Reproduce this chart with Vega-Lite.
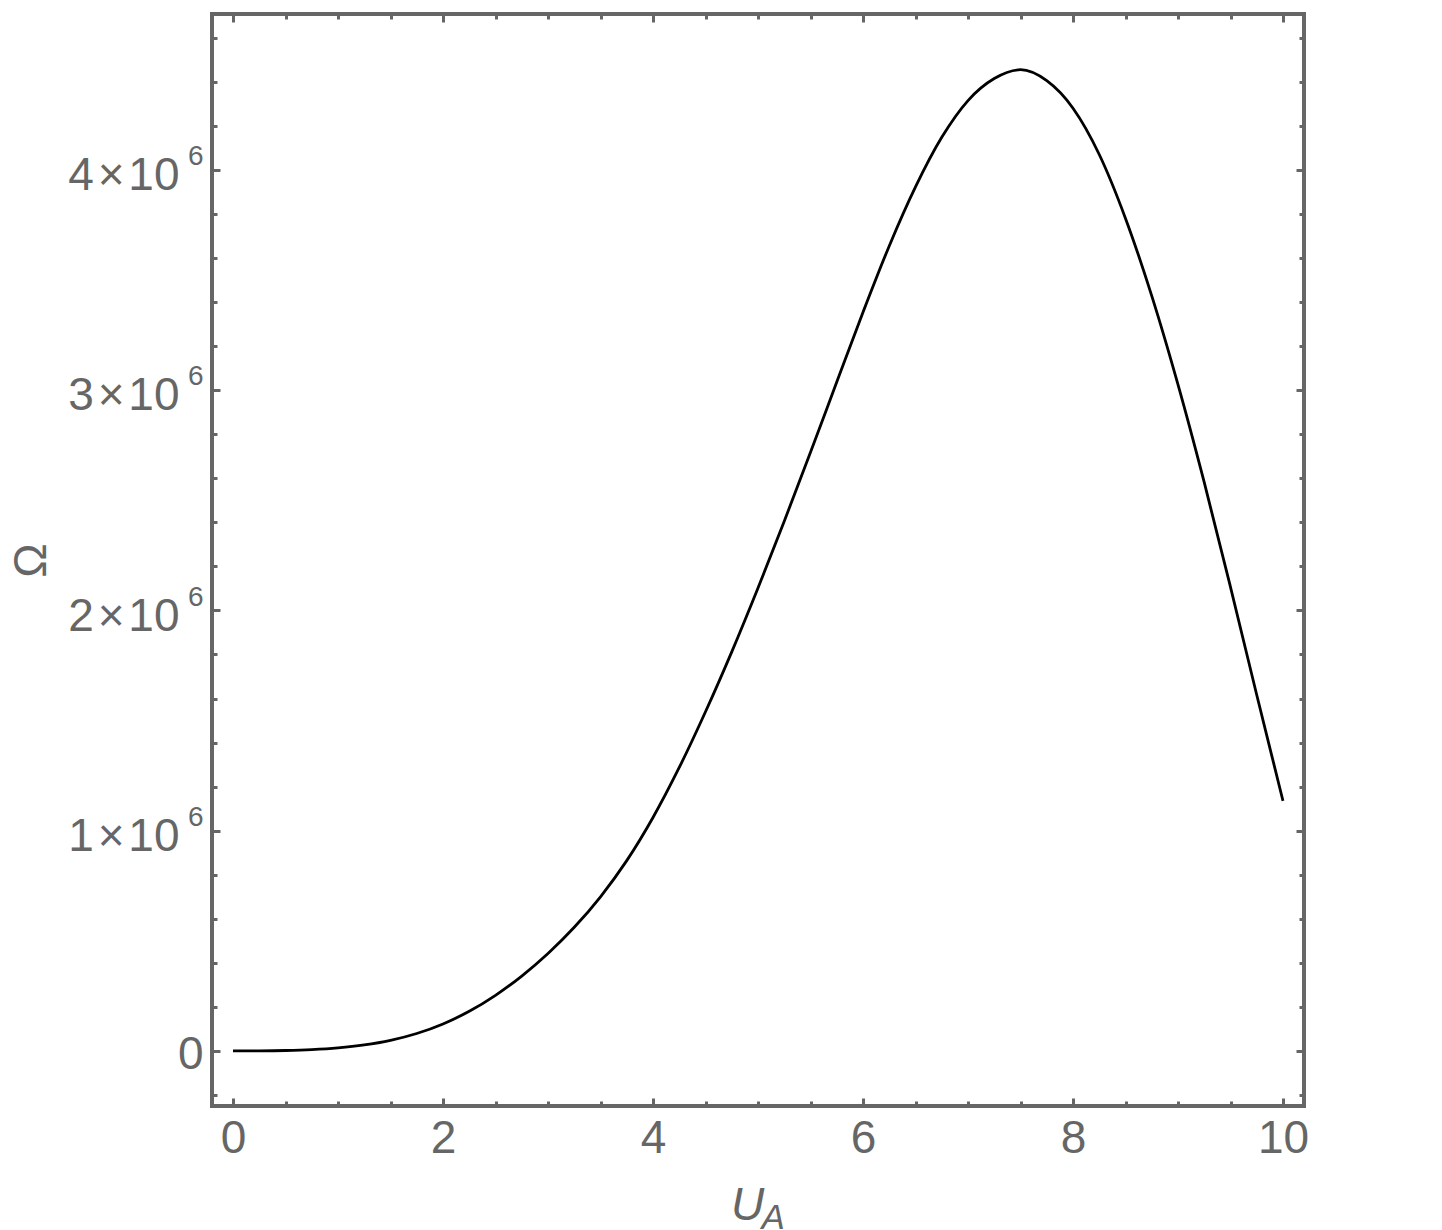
{
  "$schema": "https://vega.github.io/schema/vega-lite/v6.json",
  "width": 1092,
  "height": 1092,
  "autosize": {"type": "none"},
  "padding": {"left": 212, "top": 14, "right": 138, "bottom": 124},
  "background": "white",
  "config": {
    "view": {"stroke": "#666666", "strokeWidth": 4},
    "axis": {
      "domain": false,
      "grid": false,
      "tickColor": "#666666",
      "labelColor": "#666666",
      "labelFont": "Liberation Sans",
      "labelFontSize": 46,
      "titleColor": "#666666",
      "titleFont": "Liberation Sans",
      "titleFontWeight": "normal"
    }
  },
  "data": {
    "values": [
      {"u": 0, "omega": 0},
      {"u": 0.25, "omega": 400},
      {"u": 0.5, "omega": 2000},
      {"u": 0.75, "omega": 6000},
      {"u": 1.0, "omega": 13800},
      {"u": 1.25, "omega": 27100},
      {"u": 1.5, "omega": 48000},
      {"u": 1.75, "omega": 79000},
      {"u": 2.0, "omega": 122500},
      {"u": 2.25, "omega": 180000},
      {"u": 2.5, "omega": 252500},
      {"u": 2.75, "omega": 340000},
      {"u": 3.0, "omega": 442500},
      {"u": 3.25, "omega": 561300},
      {"u": 3.5, "omega": 700000},
      {"u": 3.75, "omega": 864000},
      {"u": 4.0, "omega": 1060000},
      {"u": 4.25, "omega": 1287000},
      {"u": 4.5, "omega": 1540000},
      {"u": 4.75, "omega": 1812000},
      {"u": 5.0, "omega": 2102000},
      {"u": 5.25, "omega": 2405000},
      {"u": 5.5, "omega": 2718000},
      {"u": 5.75, "omega": 3037000},
      {"u": 6.0, "omega": 3354000},
      {"u": 6.25, "omega": 3655000},
      {"u": 6.5, "omega": 3923000},
      {"u": 6.75, "omega": 4148000},
      {"u": 7.0, "omega": 4315000},
      {"u": 7.25, "omega": 4415000},
      {"u": 7.5, "omega": 4455000},
      {"u": 7.75, "omega": 4405000},
      {"u": 8.0, "omega": 4280000},
      {"u": 8.25, "omega": 4070000},
      {"u": 8.5, "omega": 3780000},
      {"u": 8.75, "omega": 3428000},
      {"u": 9.0, "omega": 3025000},
      {"u": 9.25, "omega": 2581000},
      {"u": 9.5, "omega": 2106000},
      {"u": 9.75, "omega": 1616000},
      {"u": 10.0, "omega": 1135000}
    ]
  },
  "layer": [
    {
      "mark": {"type": "line", "color": "black", "strokeWidth": 2.8, "interpolate": "monotone"},
      "encoding": {
        "x": {
          "field": "u", "type": "quantitative",
          "scale": {"domain": [-0.2, 10.2], "nice": false, "zero": false},
          "axis": {
            "orient": "bottom", "values": [0, 2, 4, 6, 8, 10],
            "tickSize": -8, "tickWidth": 3, "labelPadding": 18,
            "labelFlush": false, "labelOverlap": false, "format": "d",
            "title": "U", "titleFontSize": 46, "titleFontStyle": "italic",
            "titleX": 535, "titleY": 113, "titleBaseline": "alphabetic", "titleAlign": "center"
          }
        },
        "y": {
          "field": "omega", "type": "quantitative",
          "scale": {"domain": [-250000, 4708000], "nice": false, "zero": false},
          "axis": {
            "orient": "left", "values": [0, 1000000, 2000000, 3000000, 4000000],
            "tickSize": -8, "tickWidth": 3,
            "labelPadding": {"condition": {"test": "datum.value === 0", "value": 17}, "value": 41},
            "labelFlush": false, "labelOverlap": false,
            "labelExpr": "datum.value === 0 ? '0' : format(datum.value / 1000000, 'd') + '\u200a×\u200a10'",
            "labelOffset": {"condition": {"test": "datum.value === 0", "value": 3.4}, "value": 5.7},
            "title": "Ω", "titleFontSize": 46, "titleAngle": -90,
            "titleX": -167, "titleY": 546, "titleBaseline": "alphabetic", "titleAlign": "center"
          }
        }
      }
    },
    {
      "mark": {"type": "point", "opacity": 0},
      "encoding": {
        "x": {
          "field": "u", "type": "quantitative",
          "scale": {"domain": [-0.2, 10.2], "nice": false, "zero": false},
          "axis": {
            "orient": "bottom", "values": [0.5, 1, 1.5, 2.5, 3, 3.5, 4.5, 5, 5.5, 6.5, 7, 7.5, 8.5, 9, 9.5],
            "tickSize": -5, "tickWidth": 3, "labels": false,
            "title": "A", "titleFontSize": 35, "titleFontStyle": "italic",
            "titleX": 549, "titleY": 122, "titleBaseline": "alphabetic", "titleAlign": "left"
          }
        },
        "y": {
          "field": "omega", "type": "quantitative",
          "scale": {"domain": [-250000, 4708000], "nice": false, "zero": false},
          "axis": {
            "orient": "left",
            "values": [-200000, 200000, 400000, 600000, 800000, 1200000, 1400000, 1600000, 1800000, 2200000, 2400000, 2600000, 2800000, 3200000, 3400000, 3600000, 3800000, 4200000, 4400000, 4600000],
            "tickSize": -5, "tickWidth": 3, "labels": false, "title": null
          }
        }
      }
    },
    {
      "mark": {"type": "point", "opacity": 0},
      "encoding": {
        "x": {
          "field": "u", "type": "quantitative",
          "scale": {"domain": [-0.2, 10.2], "nice": false, "zero": false},
          "axis": {"orient": "top", "values": [0, 2, 4, 6, 8, 10], "tickSize": -8, "tickWidth": 3, "labels": false, "title": null}
        },
        "y": {
          "field": "omega", "type": "quantitative",
          "scale": {"domain": [-250000, 4708000], "nice": false, "zero": false},
          "axis": {"orient": "right", "values": [0, 1000000, 2000000, 3000000, 4000000], "tickSize": -8, "tickWidth": 3, "labels": false, "title": null}
        }
      }
    },
    {
      "mark": {"type": "point", "opacity": 0},
      "encoding": {
        "x": {
          "field": "u", "type": "quantitative",
          "scale": {"domain": [-0.2, 10.2], "nice": false, "zero": false},
          "axis": {"orient": "top", "values": [0.5, 1, 1.5, 2.5, 3, 3.5, 4.5, 5, 5.5, 6.5, 7, 7.5, 8.5, 9, 9.5], "tickSize": -5, "tickWidth": 3, "labels": false, "title": null}
        },
        "y": {
          "field": "omega", "type": "quantitative",
          "scale": {"domain": [-250000, 4708000], "nice": false, "zero": false},
          "axis": {
            "orient": "right",
            "values": [-200000, 200000, 400000, 600000, 800000, 1200000, 1400000, 1600000, 1800000, 2200000, 2400000, 2600000, 2800000, 3200000, 3400000, 3600000, 3800000, 4200000, 4400000, 4600000],
            "tickSize": -5, "tickWidth": 3, "labels": false, "title": null
          }
        }
      }
    },
    {
      "mark": {"type": "point", "opacity": 0},
      "encoding": {
        "x": {
          "field": "u", "type": "quantitative",
          "scale": {"domain": [-0.2, 10.2], "nice": false, "zero": false},
          "axis": null
        },
        "y": {
          "field": "omega", "type": "quantitative",
          "scale": {"domain": [-250000, 4708000], "nice": false, "zero": false},
          "axis": {
            "orient": "left", "values": [1000000, 2000000, 3000000, 4000000],
            "ticks": false, "tickSize": 0, "labelPadding": 9,
            "labelFontSize": 28, "labelExpr": "'6'", "labelOffset": -13.4,
            "labelFlush": false, "labelOverlap": false, "title": null
          }
        }
      }
    }
  ],
  "resolve": {"axis": {"x": "independent", "y": "independent"}}
}
